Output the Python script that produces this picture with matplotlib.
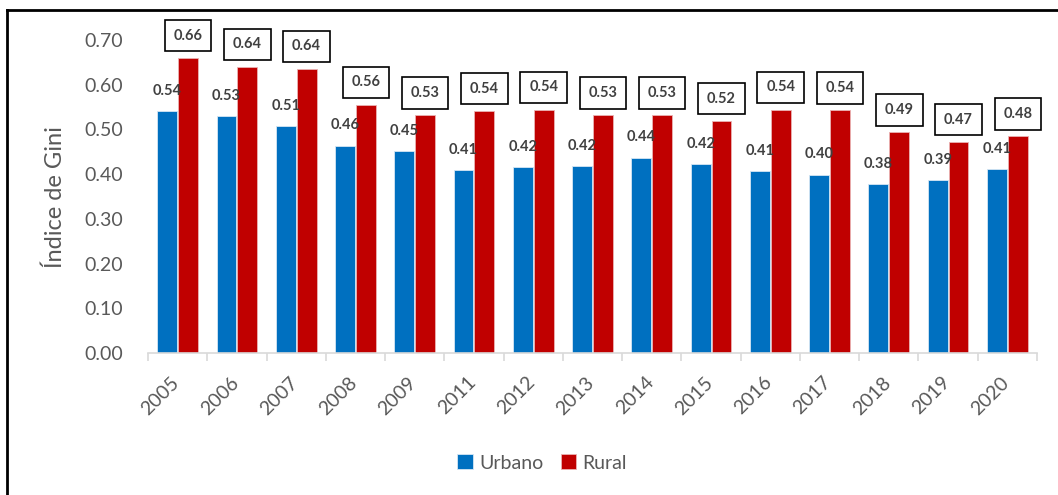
import matplotlib
matplotlib.use('Agg')
import matplotlib.pyplot as plt
import matplotlib.transforms as mtransforms
from matplotlib.lines import Line2D
import numpy as np

plt.rcParams['font.family'] = ['Lato', 'DejaVu Sans']

# datos
anios = ['2005', '2006', '2007', '2008', '2009', '2011', '2012', '2013',
         '2014', '2015', '2016', '2017', '2018', '2019', '2020']
urbano = [0.541, 0.530, 0.508, 0.464, 0.451, 0.410, 0.416, 0.418,
          0.437, 0.423, 0.406, 0.399, 0.378, 0.386, 0.412]
rural = [0.660, 0.640, 0.636, 0.555, 0.532, 0.541, 0.544, 0.532,
         0.532, 0.519, 0.544, 0.543, 0.494, 0.472, 0.485]

azul = '#0070C0'
rojo = '#C00000'
gris = '#595959'

fig = plt.figure(figsize=(10.58, 4.95), dpi=100)
ax = fig.add_axes([148 / 1058, 1 - 353 / 495, (1037 - 148) / 1058, (353 - 40) / 495])

x = np.arange(len(anios))
w = 0.335
ax.bar(x - 0.176, urbano, w, color=azul, edgecolor='#d6e6f4', linewidth=0.6, label='Urbano')
ax.bar(x + 0.176, rural, w, color=rojo, edgecolor='#eab3b3', linewidth=0.6, label='Rural')

# etiquetas de datos
for i in range(len(anios)):
    ax.text(x[i] - 0.176, urbano[i] + 0.045, f'{urbano[i]:.2f}', ha='center', va='center',
            fontsize=10.5, fontweight='bold', color='#404040', clip_on=False)
    ax.text(x[i] + 0.176, rural[i] + 0.05, f'{rural[i]:.2f}', ha='center', va='center',
            fontsize=10.5, fontweight='bold', color='#404040', clip_on=False,
            bbox=dict(boxstyle='square,pad=0.6', fc='white', ec='black', lw=1.2))

ax.set_xlim(-0.5, len(anios) - 0.5)
ax.set_ylim(0, 0.70)
ax.set_yticks(np.arange(0, 0.71, 0.1))
ax.set_yticklabels([f'{v:.2f}' for v in np.arange(0, 0.71, 0.1)])
ax.set_xticks(x)
ax.set_xticklabels(anios, rotation=45, ha='right', rotation_mode='anchor')
ax.set_xticks(np.arange(len(anios) + 1) - 0.5, minor=True)

ax.tick_params(axis='y', length=0, pad=18, labelsize=14, labelcolor=gris)
ax.tick_params(axis='x', which='major', length=0, pad=12, labelsize=14, labelcolor=gris)
ax.tick_params(axis='x', which='minor', length=6, width=1.2, color='#d9d9d9')

# mover las etiquetas del eje x un poco a la izquierda
desplaza = mtransforms.ScaledTranslation(-7 / 100, -4 / 100, fig.dpi_scale_trans)
for lab in ax.get_xticklabels():
    lab.set_transform(lab.get_transform() + desplaza)

for s in ['top', 'right', 'left']:
    ax.spines[s].set_visible(False)
ax.spines['bottom'].set_color('#d9d9d9')
ax.spines['bottom'].set_linewidth(1.2)

fig.text(55 / 1058, 1 - 197 / 495, 'Índice de Gini', rotation=90, ha='center', va='center',
         fontsize=17, color=gris)

fig.legend(loc='center', bbox_to_anchor=(542 / 1058, 1 - 463 / 495), ncol=2, frameon=False,
           fontsize=14, labelcolor=gris, handlelength=0.8, handleheight=0.8,
           handletextpad=0.3, columnspacing=0.9)

# marco del gráfico
fig.add_artist(Line2D([7 / 1058, 7 / 1058], [0, 1 - 10 / 495], transform=fig.transFigure,
                      color='black', lw=2))
fig.add_artist(Line2D([7 / 1058, 1], [1 - 10 / 495, 1 - 10 / 495], transform=fig.transFigure,
                      color='black', lw=2))

fig.savefig('out.png', dpi=100)
